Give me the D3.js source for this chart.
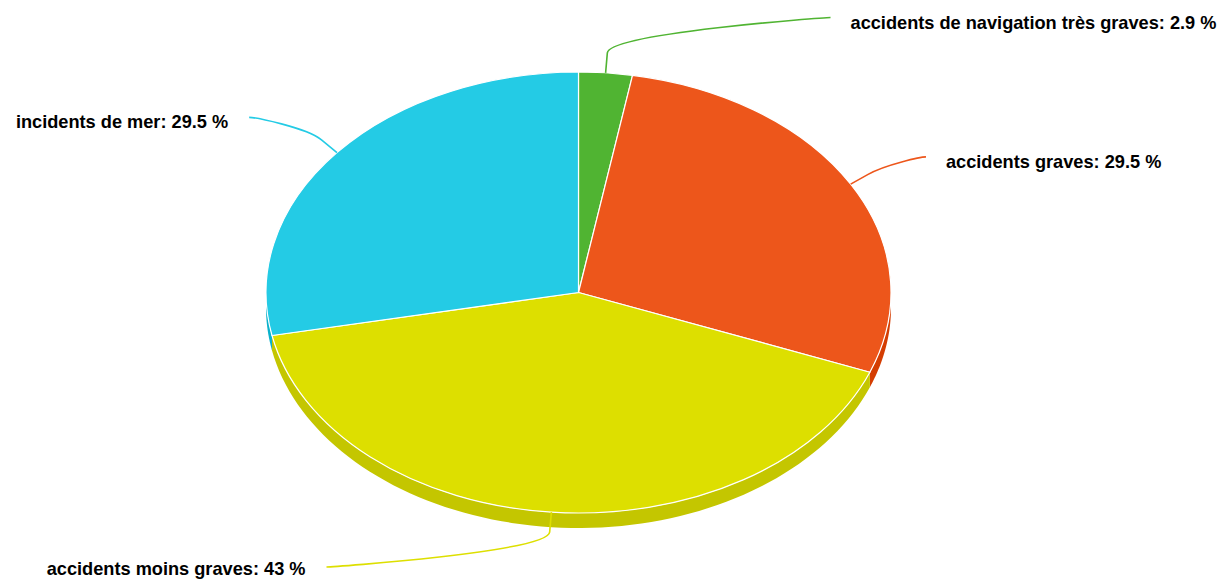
<!DOCTYPE html>
<html>
<head>
<meta charset="utf-8">
<script src="https://cdn.jsdelivr.net/npm/d3@7"></script>
<style>
  html, body { margin: 0; padding: 0; background: #fff; }
  svg { display: block; }
</style>
</head>
<body>
<svg id="chart" width="1232" height="581"></svg>
<script>
const categories = ["accidents de navigation très graves", "accidents graves", "accidents moins graves", "incidents de mer"];
const values = [2.9, 29.5, 43, 29.5];
const colors = ["#50B432", "#ED561B", "#DDDF00", "#24CBE5"];

const W = 1232, H = 581;
const cx = 578.5, cy = 292.5, rx = 312.5, ry = 220.5, depth = 15;
const labelDist = 373, labelFlat = 0.74, breakLen = 20;

const svg = d3.select("#chart");
const data = categories.map((c, i) => ({ name: c, value: values[i], color: colors[i] }));
const arcs = d3.pie().sort(null).value(d => d.value)(data);

const ex = a => cx + rx * Math.sin(a);
const ey = a => cy - ry * Math.cos(a);
const sideColor = col => {
  const c = d3.rgb(col);
  return d3.rgb(Math.max(0, c.r - 25.5), Math.max(0, c.g - 25.5), Math.max(0, c.b - 25.5)).toString();
};

// sides (front half only: angles between PI/2 and 3PI/2)
const sideG = svg.append("g");
const line = d3.line();
arcs.forEach(a => {
  const s = Math.max(a.startAngle, Math.PI / 2);
  const e = Math.min(a.endAngle, 3 * Math.PI / 2);
  if (e <= s) return;
  const n = 80;
  const top = d3.range(n + 1).map(i => s + (e - s) * i / n);
  const pts = top.map(t => [ex(t), ey(t)]).concat(top.slice().reverse().map(t => [ex(t), ey(t) + depth]));
  sideG.append("path")
    .attr("d", line(pts) + "Z")
    .attr("fill", sideColor(a.data.color))
    .attr("stroke", "none");
});

// top faces
const arcGen = d3.arc().innerRadius(0).outerRadius(rx);
svg.append("g")
  .attr("transform", `translate(${cx},${cy}) scale(1,${ry / rx})`)
  .selectAll("path")
  .data(arcs)
  .join("path")
  .attr("d", arcGen)
  .attr("fill", d => d.data.color)
  .attr("stroke", "#fff")
  .attr("stroke-width", 1.2)
  .attr("stroke-linejoin", "round")
  .attr("vector-effect", "non-scaling-stroke");

// labels and connectors
const lg = svg.append("g");
arcs.forEach(a => {
  const m = (a.startAngle + a.endAngle) / 2;
  const dx = Math.sin(m), dy = -Math.cos(m);
  const touch = [ex(m), ey(m)];
  const brk = [touch[0] + breakLen * dx, touch[1] + breakLen * dy];
  const ly0 = cy + labelDist * dy * labelFlat;
  const ly = Math.min(ly0, H - 14);
  const right = dx >= 0;
  const off = Math.sqrt(labelDist * labelDist - (ly0 - cy) * (ly0 - cy));
  const lx = right ? cx + off : cx - off;
  const p = d3.path();
  p.moveTo(lx, ly);
  p.bezierCurveTo(lx + (right ? -5 : 5), ly, 2 * brk[0] - touch[0], 2 * brk[1] - touch[1], brk[0], brk[1]);
  p.lineTo(touch[0], touch[1]);
  lg.append("path")
    .attr("d", p.toString())
    .attr("fill", "none")
    .attr("stroke", a.data.color)
    .attr("stroke-width", 1.6);
  lg.append("text")
    .attr("x", right ? lx + 20 : lx - 21)
    .attr("y", Math.min(ly + 11, H - 6))
    .attr("text-anchor", right ? "start" : "end")
    .attr("font-family", "Liberation Sans, Arial, sans-serif")
    .attr("font-weight", "bold")
    .attr("font-size", 18.2)
    .attr("fill", "#000")
    .text(`${a.data.name}: ${a.data.value} %`);
});
</script>
</body>
</html>
